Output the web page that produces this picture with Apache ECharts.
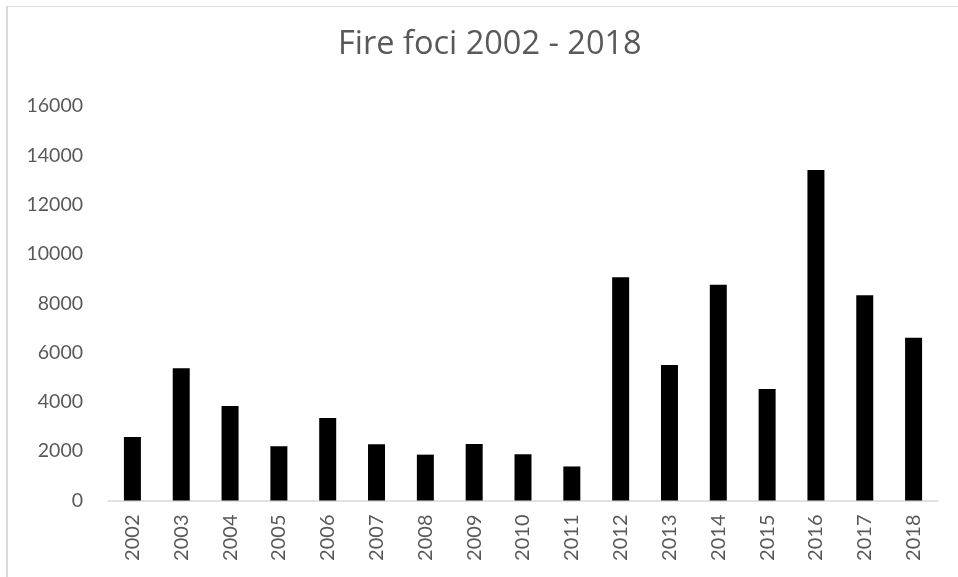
<!DOCTYPE html>
<html>
<head>
<meta charset="utf-8">
<script src="https://cdn.jsdelivr.net/npm/echarts@6/dist/echarts.min.js"></script>
<style>
  html, body { margin: 0; padding: 0; background: #fff; }
  #chart { width: 958px; height: 577px; }
</style>
</head>
<body>
<div id="chart"></div>
<script>
// Annual count of fire foci
const years = ['2002','2003','2004','2005','2006','2007','2008','2009','2010',
               '2011','2012','2013','2014','2015','2016','2017','2018'];
const fireFoci = [2575, 5360, 3830, 2200, 3345, 2280, 1860, 2290, 1875,
                  1380, 9050, 5495, 8750, 4520, 13400, 8320, 6600];
const yTicks = { min: 0, max: 16000, step: 2000 };
const titleText = 'Fire foci 2002 - 2018';

const FONT = 'Lato, "Open Sans", sans-serif';
const TITLE_FONT = '"Open Sans", Lato, sans-serif';
const GREY = '#595959';

const chart = echarts.init(document.getElementById('chart'), null, { renderer: 'canvas' });
chart.setOption({
  animation: false,
  backgroundColor: '#ffffff',
  title: {
    text: titleText,
    left: 333,
    top: 23,
    textStyle: { fontFamily: TITLE_FONT, fontSize: 32.5, fontWeight: 'normal', color: GREY }
  },
  grid: { left: 108, right: 20, top: 106, bottom: 76.5, containLabel: false },
  xAxis: {
    type: 'category',
    data: years,
    axisLine: { lineStyle: { color: '#d9d9d9', width: 1.5 } },
    axisTick: { show: false },
    axisLabel: { rotate: 90, margin: 14, color: GREY, fontFamily: FONT, fontSize: 20 }
  },
  yAxis: {
    type: 'value',
    min: yTicks.min,
    max: yTicks.max,
    interval: yTicks.step,
    axisLine: { show: false },
    axisTick: { show: false },
    splitLine: { show: false },
    axisLabel: {
      margin: 25, color: GREY, fontFamily: FONT, fontSize: 19.5,
      formatter: v => String(v)
    }
  },
  series: [{
    type: 'bar',
    data: fireFoci,
    barWidth: 17,
    itemStyle: { color: '#000000' }
  }],
  graphic: [
    { type: 'line', shape: { x1: 7, y1: 6, x2: 7, y2: 577 }, style: { stroke: '#d9d9d9', lineWidth: 2 }, silent: true },
    { type: 'line', shape: { x1: 6, y1: 6.5, x2: 958, y2: 6.5 }, style: { stroke: '#d9d9d9', lineWidth: 1 }, silent: true }
  ]
});
</script>
</body>
</html>
